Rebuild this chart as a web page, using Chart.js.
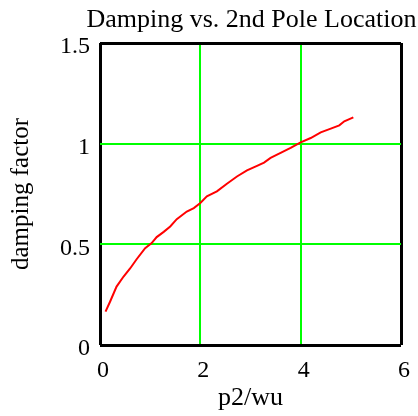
<!DOCTYPE html>
<html lang="en">
<head>
    <meta charset="UTF-8">
    <title>Damping vs. 2nd Pole Location</title>
    <script src="https://cdn.jsdelivr.net/npm/chart.js"></script>
    <style>
        html, body { margin: 0; padding: 0; background: #fff; }
        #wrap { width: 418px; height: 416px; }
    </style>
</head>
<body>
    <div id="wrap">
        <canvas id="dampingChart" width="418" height="416"></canvas>
    </div>

    <script>
        // values
        const poleRatio = [0.11, 0.2, 0.33, 0.47, 0.6, 0.73, 0.9, 1.03, 1.13, 1.27, 1.4, 1.53, 1.73, 1.87, 2.0, 2.13, 2.33, 2.53, 2.73, 2.93, 3.13, 3.27, 3.4, 3.6, 3.8, 4.0, 4.2, 4.4, 4.6, 4.77, 4.87, 5.05];
        const damping = [0.166, 0.215, 0.29, 0.34, 0.38, 0.426, 0.481, 0.506, 0.536, 0.562, 0.589, 0.625, 0.663, 0.68, 0.705, 0.738, 0.763, 0.801, 0.837, 0.867, 0.89, 0.906, 0.929, 0.954, 0.979, 1.006, 1.028, 1.056, 1.075, 1.091, 1.111, 1.131];
        const xTicks = [0, 2, 4, 6];
        const yTicks = [0, 0.5, 1, 1.5];
        const chartTitle = 'Damping vs. 2nd Pole Location';

        const serif = 'Liberation Serif';

        // outer gridlines form the black frame, inner ones are green
        function edgeColor(ctx, lo, hi) {
            const v = ctx.tick.value;
            return (v === lo || v === hi) ? '#000000' : '#00ff00';
        }
        function edgeWidth(ctx, lo, hi) {
            const v = ctx.tick.value;
            return (v === lo || v === hi) ? 3 : 2;
        }

        // title is wider than the plot, so draw it ourselves over the plot centre
        const titlePlugin = {
            id: 'plotTitle',
            afterDraw(chart) {
                const ctx = chart.ctx;
                const area = chart.chartArea;
                ctx.save();
                ctx.fillStyle = '#000';
                ctx.font = '26px "' + serif + '"';
                ctx.textAlign = 'center';
                ctx.textBaseline = 'alphabetic';
                ctx.fillText(chartTitle, (area.left + area.right) / 2 + 1, 27);
                ctx.restore();
            }
        };

        new Chart(document.getElementById('dampingChart'), {
            type: 'line',
            data: {
                datasets: [{
                    data: poleRatio.map((x, i) => ({ x: x, y: damping[i] })),
                    borderColor: '#ff0000',
                    borderWidth: 2,
                    pointRadius: 0,
                    tension: 0,
                    fill: false
                }]
            },
            plugins: [titlePlugin],
            options: {
                responsive: false,
                animation: false,
                layout: { padding: { left: 0, right: 17, top: 43, bottom: 0 } },
                plugins: {
                    legend: { display: false },
                    tooltip: { enabled: false },
                    title: { display: false }
                },
                scales: {
                    x: {
                        type: 'linear',
                        min: 0,
                        max: 6,
                        afterBuildTicks: s => { s.ticks = xTicks.map(v => ({ value: v })); },
                        afterFit: s => { s.height = 71; },
                        border: { display: false },
                        grid: {
                            drawTicks: false,
                            color: ctx => edgeColor(ctx, 0, 6),
                            lineWidth: ctx => edgeWidth(ctx, 0, 6)
                        },
                        ticks: {
                            color: '#000',
                            padding: 11,
                            labelOffset: 3,
                            maxRotation: 0,
                            callback: v => String(v),
                            font: { family: serif, size: 24 }
                        },
                        title: {
                            display: true,
                            text: 'p2/wu',
                            color: '#000',
                            font: { family: serif, size: 26 },
                            padding: { top: 0, bottom: 2 }
                        }
                    },
                    y: {
                        type: 'linear',
                        min: 0,
                        max: 1.5,
                        afterBuildTicks: s => { s.ticks = yTicks.map(v => ({ value: v })); },
                        afterFit: s => { s.width = 100; },
                        border: { display: false },
                        grid: {
                            drawTicks: false,
                            color: ctx => edgeColor(ctx, 0, 1.5),
                            lineWidth: ctx => edgeWidth(ctx, 0, 1.5)
                        },
                        ticks: {
                            color: '#000',
                            padding: 10,
                            labelOffset: 4,
                            callback: v => String(v),
                            font: { family: serif, size: 24 }
                        },
                        title: {
                            display: true,
                            text: 'damping factor',
                            color: '#000',
                            font: { family: serif, size: 25 },
                            padding: { top: 6, bottom: 0 }
                        }
                    }
                }
            }
        });
    </script>
</body>
</html>
